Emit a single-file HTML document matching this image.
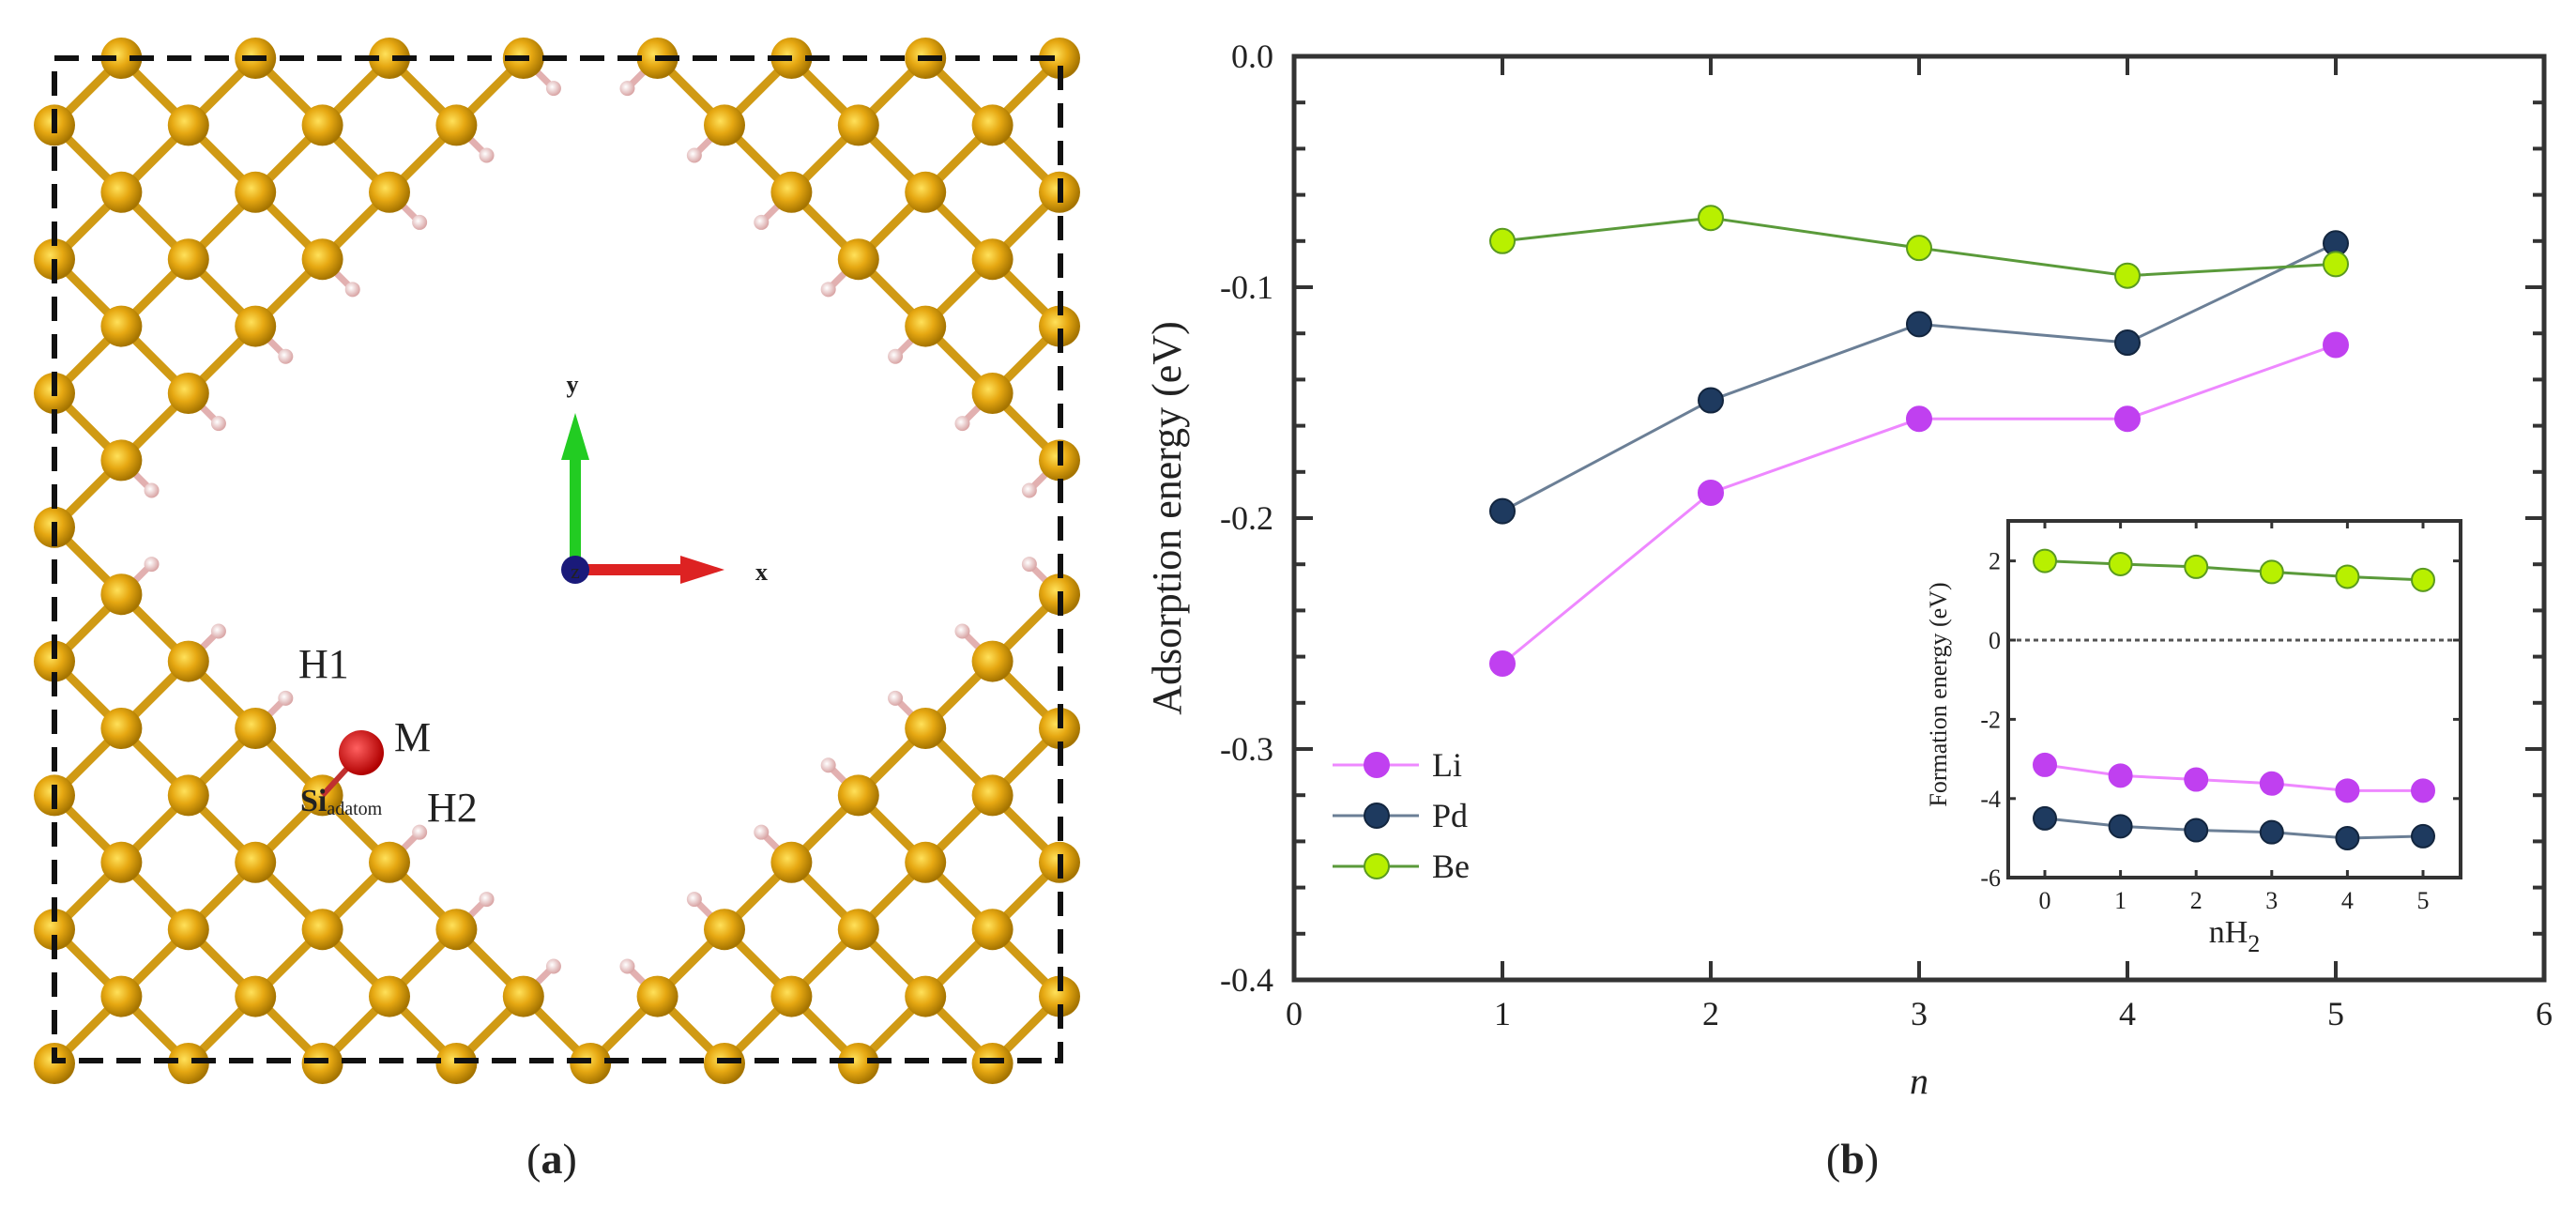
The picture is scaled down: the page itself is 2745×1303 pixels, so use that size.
<!DOCTYPE html>
<html><head><meta charset="utf-8">
<style>
html,body{margin:0;padding:0;background:#fff;}
svg{display:block;}
text{font-family:"Liberation Serif",serif;fill:#222;}
</style></head>
<body>
<svg id="fig" width="2745" height="1303" viewBox="0 0 2745 1303" xmlns="http://www.w3.org/2000/svg">
<defs>
<radialGradient id="gold" cx="0.4" cy="0.4" r="0.6">
<stop offset="0" stop-color="#ffe15a"/><stop offset="0.5" stop-color="#e6a812"/><stop offset="1" stop-color="#a57400"/>
</radialGradient>
<radialGradient id="pink" cx="0.4" cy="0.4" r="0.6">
<stop offset="0" stop-color="#ffffff"/><stop offset="1" stop-color="#d9a5a5"/>
</radialGradient>
<radialGradient id="red" cx="0.4" cy="0.4" r="0.6">
<stop offset="0" stop-color="#ff6060"/><stop offset="1" stop-color="#b00000"/>
</radialGradient>
</defs>
<g id="structure"></g>
<g id="chart"></g>
<text x="588" y="1250" font-size="46" text-anchor="middle">(<tspan font-weight="bold">a</tspan>)</text>
<text x="1974" y="1250" font-size="46" text-anchor="middle">(<tspan font-weight="bold">b</tspan>)</text>
</svg>
<script>
const NS="http://www.w3.org/2000/svg";
function mk(tag,attrs,parent){const e=document.createElementNS(NS,tag);for(const k in attrs)e.setAttribute(k,attrs[k]);parent.appendChild(e);return e;}

// ---------- Panel (a): structure ----------
(function(){
const g=document.getElementById('structure');
const X0=58,Y0=62,S=71.4;
const px=i=>X0+S*i, py=j=>Y0+S*j;
const d=(i,j)=>Math.abs(i-7.5)+Math.abs(j-7.5);
const thr=(i,j)=>{ if(i<=7&&j<=7) return 8; if(i>=8&&j<=7) return 9; if(i<=7&&j>=8) return 7; return 8; };
const present=(i,j)=>i>=0&&i<=15&&j>=0&&j<=15&&((i+j)%2===1)&&d(i,j)>=thr(i,j);
const isAd=(i,j)=>i===4&&j===11;
const bonds=mk('g',{},g);


const hs=mk('g',{},g);


const atoms=mk('g',{},g);


for(let i=0;i<=15;i++)for(let j=0;j<=15;j++){
 if(!present(i,j))continue;
 [[1,1],[1,-1],[-1,1],[-1,-1]].forEach(([di,dj])=>{
  const a=i+di,b=j+dj;
  if(present(a,b)){ if(di===1) mk('line',{x1:px(i),y1:py(j),x2:px(a),y2:py(b),stroke:'#d09a14','stroke-width':9},bonds);}
  else if(a>=0&&a<=15&&b>=0&&b<=15&&!isAd(i,j)){
   const hx=px(i)+di*S*0.45,hy=py(j)+dj*S*0.45;
   mk('line',{x1:px(i),y1:py(j),x2:hx,y2:hy,stroke:'#e2b0b0','stroke-width':7},hs);
   mk('circle',{cx:hx,cy:hy,r:8,fill:'url(#pink)'},hs);
  }
 });
 mk('circle',{cx:px(i),cy:py(j),r:22,fill:'url(#gold)'},atoms);
}
const box=mk('rect',{x:58,y:62,width:1072,height:1068,fill:'none',stroke:'#111','stroke-width':6,'stroke-dasharray':'26 14'},g);


mk('line',{x1:px(4),y1:py(11),x2:385,y2:802,stroke:'#c03030','stroke-width':6},g);
const m=mk('circle',{cx:385,cy:802,r:24,fill:'url(#red)'},g);


mk('line',{x1:613,y1:607,x2:613,y2:475,stroke:'#22cc22','stroke-width':12},g);
mk('polygon',{points:'598,490 628,490 613,440',fill:'#22cc22'},g);
mk('line',{x1:613,y1:607,x2:735,y2:607,stroke:'#dd2222','stroke-width':12},g);
mk('polygon',{points:'725,592 725,622 772,607',fill:'#dd2222'},g);
mk('circle',{cx:613,cy:607,r:15,fill:'#1a1a7a'},g);
})();
</script>
<script>
// ---------- Panel (b): main chart data ----------
const nValues=[1,2,3,4,5];
const liEnergy=[-0.263,-0.189,-0.157,-0.157,-0.125];
const pdEnergy=[-0.197,-0.149,-0.116,-0.124,-0.081];
const beEnergy=[-0.080,-0.070,-0.083,-0.095,-0.090];
const xTickLabels=['0','1','2','3','4','5','6'];
const yTickLabels=['0.0','-0.1','-0.2','-0.3','-0.4'];
// inset data
const insetN=[0,1,2,3,4,5];
const insetLi=[-3.15,-3.42,-3.52,-3.62,-3.8,-3.8];
const insetPd=[-4.5,-4.7,-4.8,-4.85,-5.0,-4.95];
const insetBe=[2.0,1.92,1.85,1.72,1.6,1.52];
const insetYTicks=[2,0,-2,-4,-6];

(function(){
const g=document.getElementById('chart');
const L=1379,R=2711,T=60,B=1044;
const xs=v=>L+(v-0)/6*(R-L);
const ys=v=>T+(0-v)/0.4*(B-T);
const fr=mk('rect',{x:L,y:T,width:R-L,height:B-T,fill:'none',stroke:'#333','stroke-width':5},g);


for(let k=0;k<=6;k++){
 const x=xs(k);
 mk('line',{x1:x,y1:B,x2:x,y2:B-20,stroke:'#333','stroke-width':4},g);
 mk('line',{x1:x,y1:T,x2:x,y2:T+20,stroke:'#333','stroke-width':4},g);
 const t=mk('text',{x:x,y:B+48,'font-size':36,'text-anchor':'middle'},g);
 t.textContent=xTickLabels[k];
 
 
}
for(let k=0;k<=20;k++){
 const v=-k*0.02,y=ys(v),len=(k%5===0)?20:12;
 mk('line',{x1:L,y1:y,x2:L+len,y2:y,stroke:'#333','stroke-width':4},g);
 mk('line',{x1:R,y1:y,x2:R-len,y2:y,stroke:'#333','stroke-width':4},g);
}
yTickLabels.forEach((s,k)=>{
 const t=mk('text',{x:L-22,y:ys(-k*0.1)+12,'font-size':36,'text-anchor':'end'},g);
 t.textContent=s;
 
 
});
const yt=mk('text',{x:0,y:0,'font-size':44,'text-anchor':'middle',transform:'translate(1258,552) rotate(-90)'},g);
yt.textContent='Adsorption energy (eV)';


const xt=mk('text',{x:(L+R)/2,y:1165,'font-size':40,'font-style':'italic','text-anchor':'middle'},g);
xt.textContent='n';



const series=[['li',liEnergy,'#ee88ff','#c040f0','#c040f0'],['pd',pdEnergy,'#6b7f96','#1e3a5f','#13263f'],['be',beEnergy,'#5a9a3a','#b8f000','#5a9a20']];
series.forEach(([nm,vals,lc,fc,sc])=>{
 const sg=mk('g',{},g);
 
 
 mk('polyline',{points:nValues.map((n,i)=>xs(n)+','+ys(vals[i])).join(' '),fill:'none',stroke:lc,'stroke-width':3},sg);
 nValues.forEach((n,i)=>{
  const c=mk('circle',{cx:xs(n),cy:ys(vals[i]),r:13,fill:fc,stroke:sc,'stroke-width':2},sg);
  
  
 });
});
const legNames=['Li','Pd','Be'];
const legY=[815,869,923];
series.forEach((s,k)=>{
 const lg=mk('g',{},g);
 
 
 mk('line',{x1:1420,y1:legY[k],x2:1512,y2:legY[k],stroke:s[2],'stroke-width':3},lg);
 mk('circle',{cx:1467,cy:legY[k],r:13,fill:s[3],stroke:s[4],'stroke-width':2},lg);
 const t=mk('text',{x:1526,y:legY[k]+12,'font-size':36},lg);
 t.textContent=legNames[k];
});

const iL=2140,iR=2622,iT=555,iB=935;
const ixs=v=>2179+v*80.6;
const iys=v=>682-v*42.2;
const ig=mk('g',{},g);


mk('rect',{x:iL,y:iT,width:iR-iL,height:iB-iT,fill:'#fff',stroke:'#333','stroke-width':4},ig);
const zl=mk('line',{x1:iL,y1:iys(0),x2:iR,y2:iys(0),stroke:'#555','stroke-width':3,'stroke-dasharray':'5 4'},ig);


insetN.forEach(n=>{
 mk('line',{x1:ixs(n),y1:iB,x2:ixs(n),y2:iB-8,stroke:'#333','stroke-width':3},ig);
 mk('line',{x1:ixs(n),y1:iT,x2:ixs(n),y2:iT+8,stroke:'#333','stroke-width':3},ig);
 const t=mk('text',{x:ixs(n),y:iB+33,'font-size':26,'text-anchor':'middle'},ig);
 t.textContent=String(n);
 
 
});
insetYTicks.forEach(v=>{
 mk('line',{x1:iL,y1:iys(v),x2:iL+8,y2:iys(v),stroke:'#333','stroke-width':3},ig);
 mk('line',{x1:iR,y1:iys(v),x2:iR-8,y2:iys(v),stroke:'#333','stroke-width':3},ig);
 const t=mk('text',{x:iL-8,y:iys(v)+9,'font-size':26,'text-anchor':'end'},ig);
 t.textContent=String(v);
 
 
});
const iyt=mk('text',{x:0,y:0,'font-size':26,'text-anchor':'middle',transform:'translate(2074,740) rotate(-90)'},ig);
iyt.textContent='Formation energy (eV)';


const ixt=mk('text',{x:2381,y:1004,'font-size':34,'text-anchor':'middle'},ig);
ixt.innerHTML='nH<tspan dy="10" font-size="26">2</tspan>';


[['li',insetLi,series[0]],['pd',insetPd,series[1]],['be',insetBe,series[2]]].forEach(([nm,vals,s])=>{
 mk('polyline',{points:insetN.map((n,i)=>ixs(n)+','+iys(vals[i])).join(' '),fill:'none',stroke:s[2],'stroke-width':3},ig);
 insetN.forEach((n,i)=>{
  const c=mk('circle',{cx:ixs(n),cy:iys(vals[i]),r:12,fill:s[3],stroke:s[4],'stroke-width':2},ig);
  
  
 });
});
})();
</script>
<script>
(function(){
const g=document.getElementById('structure');
const labs=[['H1',318,722,44,'h1-label'],['M',420,800,44,'m-label'],['H2',455,875,44,'h2-label']];
labs.forEach(([s,x,y,f,n])=>{
 const t=mk('text',{x:x,y:y,'font-size':f},g);
 t.textContent=s;
 
 
});
const si=mk('text',{x:320,y:864,'font-size':34,'font-weight':'bold'},g);
si.innerHTML='Si<tspan font-size="20" font-weight="normal" dy="4">adatom</tspan>';


const ax=mk('text',{x:610,y:418,'font-size':26,'font-family':'Liberation Sans','text-anchor':'middle','font-weight':'bold'},g);
ax.textContent='y';


const ax2=mk('text',{x:805,y:618,'font-size':26,'font-family':'Liberation Sans','font-weight':'bold'},g);
ax2.textContent='x';


const z=mk('text',{x:613,y:616,'font-size':22,'font-family':'Liberation Sans','text-anchor':'middle',fill:'#aaa'},g);
z.textContent='z';


})();
</script>
</body></html>
